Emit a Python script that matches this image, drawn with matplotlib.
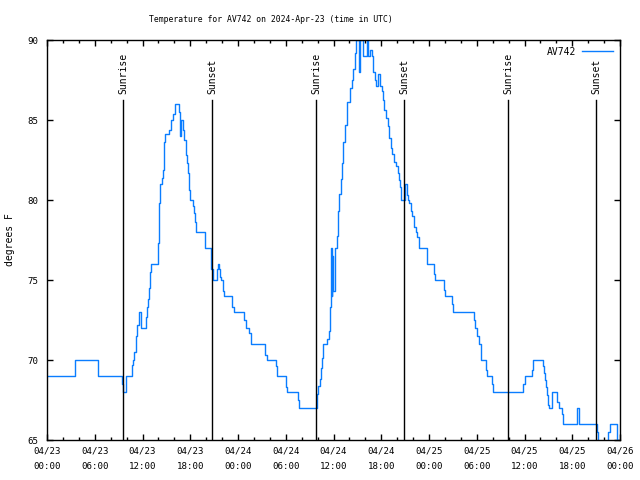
import numpy as np
import pandas as pd
import matplotlib
matplotlib.use("Agg")
import matplotlib.pyplot as plt
import matplotlib.dates as mdates

START = pd.Timestamp("2024-04-23 00:00")

# hours since 04/23 00:00 UTC, temperature (deg F)
hours = [0.0, 3.52, 6.41, 9.39, 9.49, 9.89, 10.64, 10.77, 10.93, 11.15, 11.31, 11.56,
         11.81, 12.40, 12.60, 12.73, 12.86, 12.98, 13.11, 13.99, 14.07, 14.20, 14.41,
         14.54, 14.70, 14.87, 15.37, 15.62, 15.87, 16.12, 16.55, 16.71, 16.88, 17.05,
         17.22, 17.47, 17.59, 17.72, 17.84, 17.97, 18.31, 18.43, 18.60, 18.72, 19.82,
         19.89, 20.57, 20.65, 20.86, 21.32, 21.49, 21.58, 21.74, 21.90, 22.08, 22.15,
         22.28, 23.29, 23.54, 24.79, 24.97, 25.42, 25.67, 27.43, 27.68, 28.78, 28.94,
         29.99, 30.20, 31.50, 31.70, 33.89, 33.97, 34.09, 34.34, 34.47, 34.59, 34.72,
         35.22, 35.44, 35.56, 35.69, 35.73, 35.78, 35.85, 35.94, 36.19, 36.48, 36.61,
         36.73, 36.91, 37.07, 37.23, 37.41, 37.66, 38.07, 38.29, 38.49, 38.67, 38.83,
         39.24, 39.37, 39.75, 40.21, 40.33, 40.59, 40.80, 40.93, 41.00, 41.22, 41.34,
         41.63, 41.85, 42.06, 42.26, 42.39, 42.56, 42.81, 43.01, 43.19, 43.39, 43.60,
         43.86, 44.07, 44.23, 44.36, 44.48, 44.99, 45.20, 45.40, 45.53, 45.70, 45.90,
         46.12, 46.33, 46.53, 46.75, 47.71, 47.79, 48.67, 48.79, 49.92, 50.05, 50.93,
         51.06, 53.66, 53.82, 54.07, 54.28, 54.50, 54.57, 55.16, 55.33, 55.88, 56.08,
         59.85, 60.07, 60.98, 61.11, 62.29, 62.42, 62.58, 62.70, 62.87, 63.00, 63.12,
         63.50, 64.13, 64.38, 64.72, 64.88, 66.56, 66.81, 69.08, 69.20, 70.50, 70.79,
         71.67, 71.88, 72.0]
temps = [69, 70, 69, 68.5, 68, 69, 69.7, 70, 70.5, 71.5, 72.2, 73,
         72, 72.7, 73.3, 73.8, 74.5, 75.5, 76, 77.3, 79.8, 81, 81.4,
         81.9, 83.6, 84.1, 84.4, 85, 85.4, 86, 85.5, 84, 85, 84.4,
         83.75, 82.8, 82.3, 81.7, 80.6, 80, 79.6, 79.2, 78.6, 78, 77.3,
         77, 76.5, 75.7, 75, 75.7, 76, 75.7, 75.2, 75, 74.6, 74.3,
         74, 73.3, 73, 72.5, 72, 71.7, 71, 70.3, 70, 69.6, 69,
         68.3, 68, 67.5, 67, 67.3, 67.9, 68.4, 68.8, 69.5, 70.1, 71,
         71.3, 71.8, 73.3, 74, 77, 74, 76.5, 74.3, 77, 77.75, 79.3,
         80.4, 81.3, 82.3, 83.6, 84.7, 86.1, 87, 87.5, 88.2, 89.2, 90,
         88, 90, 89, 90, 89, 89.4, 89, 88.5, 88, 87.5, 87.1,
         87.9, 87.1, 86.8, 86.25, 85.6, 85.1, 84.6, 83.9, 83.25, 82.9, 82.4,
         82.1, 81.7, 81.25, 80.8, 80, 81, 80.3, 80, 79.8, 79.3, 79,
         78.3, 78, 77.7, 77, 76.25, 76, 75.4, 75, 74.4, 74, 73.5,
         73, 72.5, 72, 71.5, 71, 70.1, 70, 69.4, 69, 68.5, 68,
         68.5, 69, 69.4, 70, 69.6, 69.2, 68.75, 68.3, 67.8, 67.2, 67,
         68, 67.4, 67, 66.6, 66, 67, 66, 65.5, 64.5, 65.5, 66,
         65, 64.5, 64.5]

sun_hours = [9.55, 20.73, 33.80, 44.86, 57.93, 68.99]
sun_labels = ["Sunrise", "Sunset", "Sunrise", "Sunset", "Sunrise", "Sunset"]

times = START + pd.to_timedelta(hours, unit="h")
sun_times = START + pd.to_timedelta(sun_hours, unit="h")

FONT = "DejaVu Sans Mono"
FS = 6.2

fig = plt.figure(figsize=(6.4, 4.8), dpi=100)
ax = fig.add_axes([47 / 640, 40 / 480, 573 / 640, 400 / 480])

ax.plot(times, temps, color="#0a7dff", lw=1.0, drawstyle="steps-post", label="AV742")

for t, lab in zip(sun_times, sun_labels):
    ax.plot([t, t], [65, 86.25], color="black", lw=1.0)
    ax.text(t, 86.6, lab, rotation=90, ha="center", va="bottom",
            family=FONT, fontsize=7.0)

ax.set_xlim(START, START + pd.Timedelta(hours=72))
ax.set_ylim(65, 90)
ax.set_yticks([65, 70, 75, 80, 85, 90])

ax.xaxis.set_major_locator(mdates.HourLocator(byhour=[0, 6, 12, 18]))
ax.xaxis.set_minor_locator(mdates.HourLocator(byhour=range(0, 24, 2)))
ax.xaxis.set_major_formatter(mdates.DateFormatter("%m/%d\n%H:%M"))

ax.tick_params(which="both", direction="in", top=True, right=True, width=1.0)
ax.tick_params(which="major", length=4.0)
ax.tick_params(which="minor", length=2.2)
ax.tick_params(axis="x", which="major", pad=5)
ax.tick_params(axis="y", pad=6.5)
for lbl in ax.get_xticklabels() + ax.get_yticklabels():
    lbl.set_family(FONT)
    lbl.set_fontsize(FS + 0.4)
for lbl in ax.get_xticklabels():
    lbl.set_linespacing(1.8)

for s in ax.spines.values():
    s.set_linewidth(1.0)

leg = ax.legend(loc="upper right", frameon=False, markerfirst=False,
                prop={"family": FONT, "size": FS + 0.8}, handlelength=3.2,
                borderaxespad=0.3, handletextpad=0.6)

fig.text(271 / 640, 1 - 19 / 480, "Temperature for AV742 on 2024-Apr-23 (time in UTC)",
         ha="center", va="center", family=FONT, fontsize=5.9)
fig.text(10 / 640, 0.5, "degrees F", rotation=90, ha="center", va="center",
         family=FONT, fontsize=7.0)

fig.savefig("out.png", dpi=100)
